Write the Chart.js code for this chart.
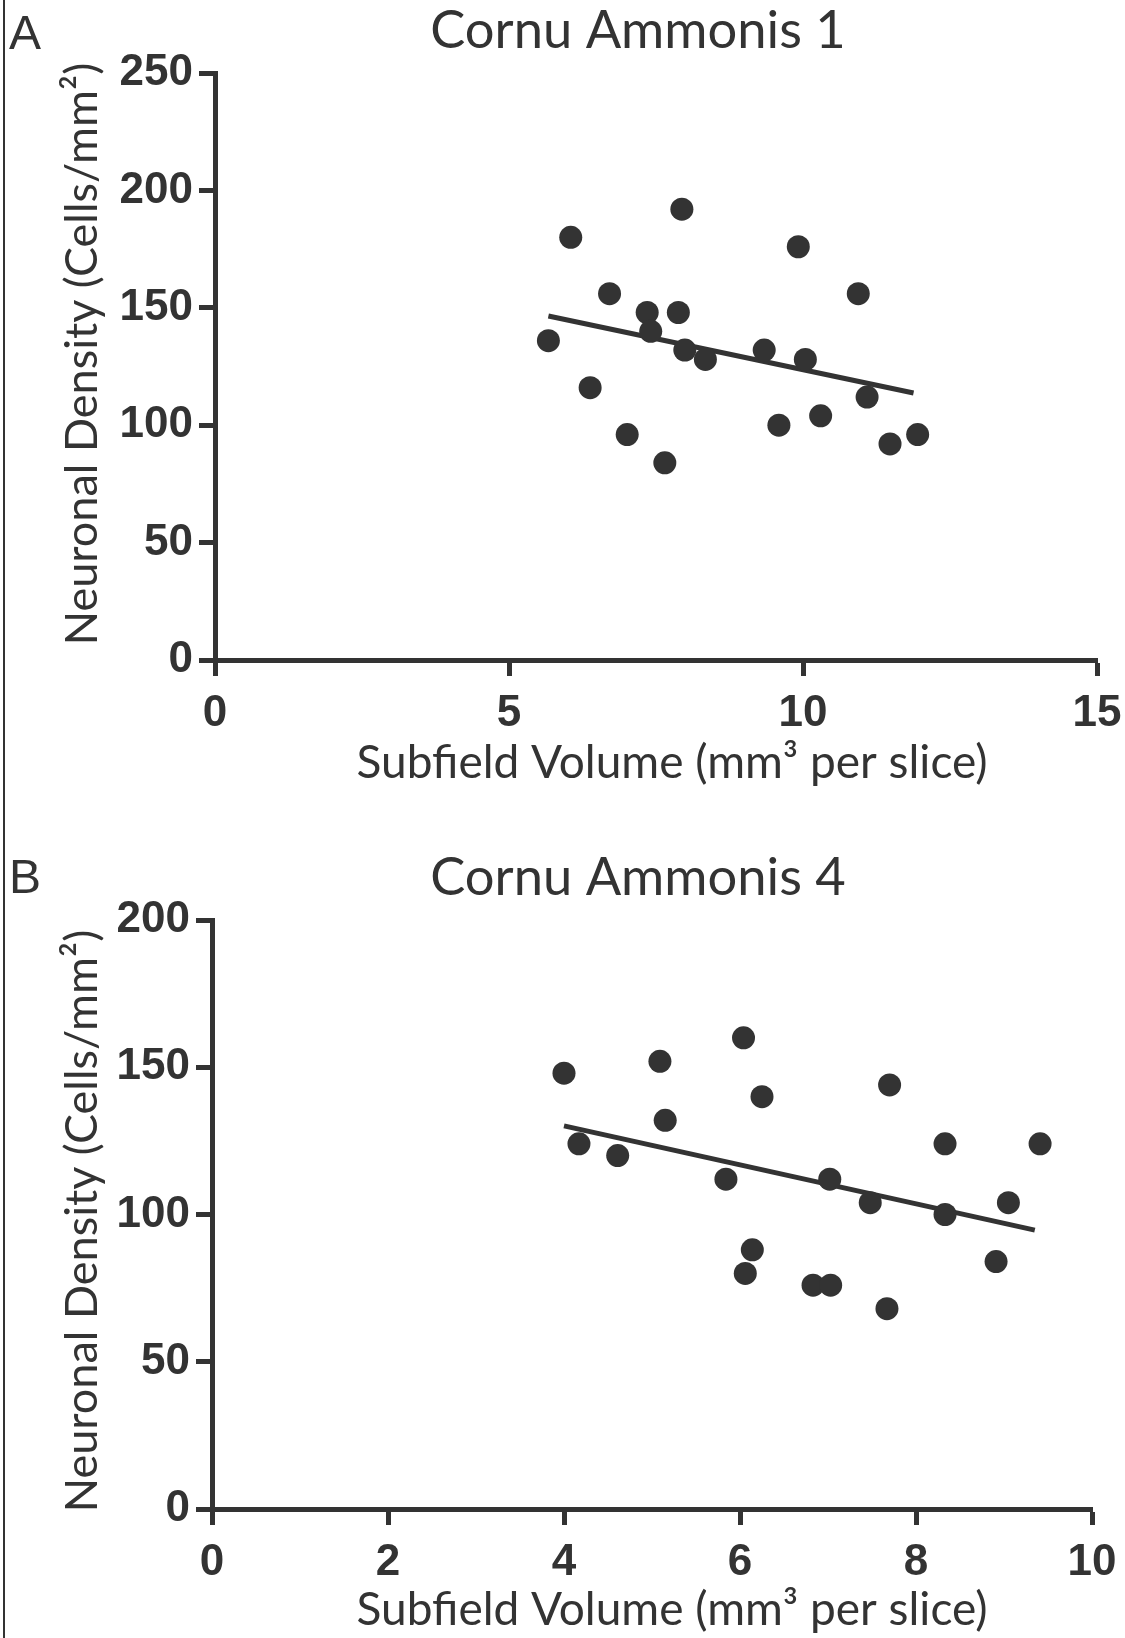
<!DOCTYPE html>
<html>
<head>
<meta charset="utf-8">
<style>
html, body { margin: 0; padding: 0; background: #fff; overflow: hidden; }
#page { position: relative; width: 1125px; height: 1638px; overflow: hidden; }
#page canvas { position: absolute; left: 0; }
#edge { position: absolute; left: 3px; top: 0; width: 2px; height: 1638px; background: #333; }
</style>
<script src="https://cdn.jsdelivr.net/npm/chart.js@4/dist/chart.umd.min.js"></script>
</head>
<body>
<div id="page">
  <canvas id="chartA" width="1125" height="847" style="top:0"></canvas>
  <canvas id="chartB" width="1125" height="847" style="top:847px"></canvas>
  <div id="edge"></div>
</div>
<script>
// Cornu Ammonis 1
var volA  = [5.67, 6.05, 6.38, 6.71, 7.01, 7.35, 7.41, 7.65, 7.88, 7.94, 7.99, 8.34, 9.34, 9.59, 9.92, 10.04, 10.30, 10.94, 11.09, 11.48, 11.95];
var densA = [136, 180, 116, 156, 96, 148, 140, 84, 148, 192, 132, 128, 132, 100, 176, 128, 104, 156, 112, 92, 96];
var fitVolA  = [5.67, 11.88];
var fitDensA = [146.5, 113.7];

// Cornu Ammonis 4
var volB  = [4.00, 4.17, 4.61, 5.09, 5.15, 5.84, 6.04, 6.06, 6.14, 6.25, 6.83, 7.02, 7.03, 7.48, 7.67, 7.70, 8.33, 8.33, 8.91, 9.05, 9.41];
var densB = [148, 124, 120, 152, 132, 112, 160, 80, 88, 140, 76, 112, 76, 104, 68, 144, 124, 100, 84, 104, 124];
var fitVolB  = [4.00, 9.35];
var fitDensB = [130.1, 94.7];

var xMaxA = 15, xStepA = 5, yMaxA = 250;
var xMaxB = 10, xStepB = 2, yMaxB = 200;
var yStep = 50;

var xLabel = "Subfield Volume (mm\u00B3 per slice)";
var yLabel = "Neuronal Density (Cells/mm\u00B2)";

var ink = "#333333";

function pairs(xs, ys) {
  return xs.map(function (x, i) { return { x: x, y: ys[i] }; });
}

// letters, titles and axis names are placed by hand to sit where the figure has them
var panelText = {
  id: "panelText",
  afterDraw: function (chart, args, o) {
    var ctx = chart.ctx;
    ctx.save();
    ctx.fillStyle = ink;
    ctx.textBaseline = "alphabetic";
    ctx.textAlign = "left";
    ctx.font = '48px "Liberation Sans", Arial, sans-serif';
    ctx.fillText(o.letter, 9, o.letterBase);
    ctx.textAlign = "center";
    ctx.font = "52.5px Lato, sans-serif";
    ctx.fillText(o.title, 638, 48);
    ctx.font = "46px Lato, sans-serif";
    ctx.fillText(xLabel, 672, o.xBase);
    ctx.translate(97, o.yMid);
    ctx.rotate(-Math.PI / 2);
    ctx.font = "45px Lato, sans-serif";
    ctx.fillText(yLabel, 0, 0);
    ctx.restore();
  }
};

function makeChart(id, xs, ys, fx, fy, xMax, xStep, yMax, area, text) {
  var tickFont = { family: '"Liberation Sans", Arial, sans-serif', size: 44, weight: "bold" };
  var axis = {
    border: { display: true, color: ink, width: 5 },
    grid: { drawOnChartArea: false, drawTicks: true, tickLength: 16, tickWidth: 5, tickColor: ink },
    ticks: { color: ink, font: tickFont }
  };
  return new Chart(document.getElementById(id), {
    type: "scatter",
    data: {
      datasets: [{
        data: pairs(xs, ys),
        backgroundColor: ink,
        borderWidth: 0,
        pointRadius: 11.5,
        pointHoverRadius: 11.5
      }, {
        type: "line",
        data: pairs(fx, fy),
        borderColor: ink,
        borderWidth: 5,
        pointRadius: 0,
        fill: false
      }]
    },
    options: {
      responsive: false,
      animation: false,
      devicePixelRatio: 1,
      layout: { padding: { top: area.top, right: 1125 - area.right, left: 0, bottom: 0 } },
      plugins: { legend: { display: false }, tooltip: { enabled: false }, panelText: text },
      scales: {
        x: Object.assign({}, axis, {
          type: "linear", min: 0, max: xMax,
          // taller line box instead of padding, so the last label does not squeeze the plot
          ticks: Object.assign({}, axis.ticks, {
            stepSize: xStep, padding: 0,
            font: Object.assign({}, tickFont, { lineHeight: 1.7 })
          }),
          afterFit: function (s) { s.height = 847 - area.bottom; }
        }),
        y: Object.assign({}, axis, {
          type: "linear", min: 0, max: yMax,
          ticks: Object.assign({}, axis.ticks, { stepSize: yStep, padding: 6 }),
          afterFit: function (s) { s.width = area.left; }
        })
      }
    },
    plugins: [panelText]
  });
}

makeChart("chartA", volA, densA, fitVolA, fitDensA, xMaxA, xStepA, yMaxA,
  { left: 215, right: 1097, top: 73, bottom: 660 },
  { letter: "A", letterBase: 49, title: "Cornu Ammonis 1", xBase: 778, yMid: 354 });

makeChart("chartB", volB, densB, fitVolB, fitDensB, xMaxB, xStepB, yMaxB,
  { left: 212, right: 1092, top: 73, bottom: 662 },
  { letter: "B", letterBase: 46, title: "Cornu Ammonis 4", xBase: 778, yMid: 374 });
</script>
</body>
</html>
